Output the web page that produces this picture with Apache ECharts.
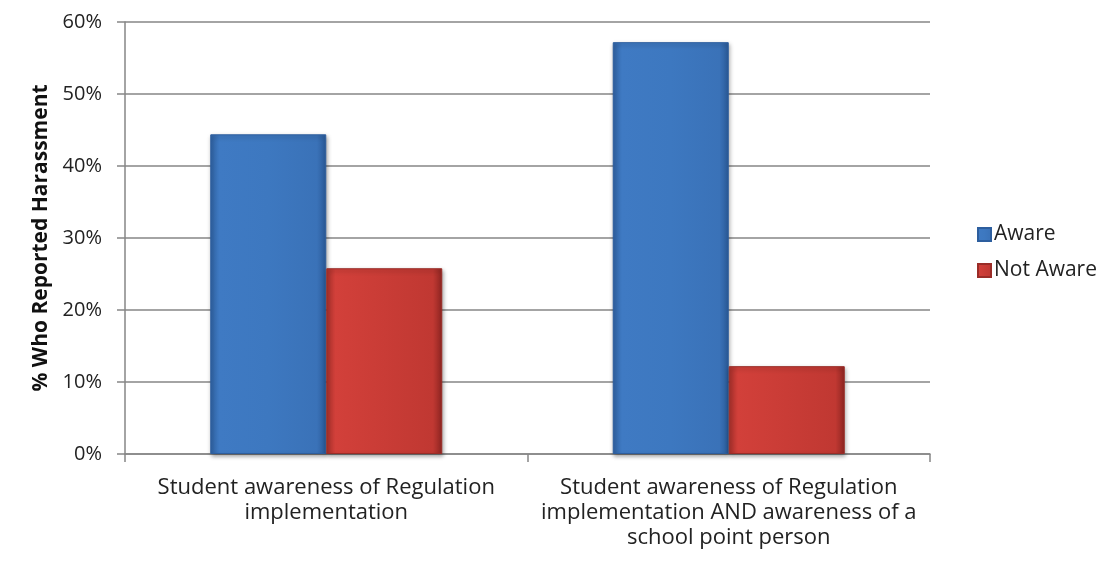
<!DOCTYPE html>
<html>
<head>
<meta charset="utf-8">
<script src="https://cdn.jsdelivr.net/npm/echarts@6/dist/echarts.min.js"></script>
<style>
html,body{margin:0;padding:0;background:#fff;}
#c{width:1108px;height:567px;}
</style>
</head>
<body>
<div id="c"></div>
<script>
const categories = [
  "Student awareness of Regulation\nimplementation",
  "Student awareness of Regulation\nimplementation AND awareness of a\nschool point person"
];
const seriesNames = ["Aware", "Not Aware"];
const aware = [44.4, 57.2];
const notAware = [25.8, 12.2];
const yTicks = [0, 10, 20, 30, 40, 50, 60];

const FONT = "'Open Sans', Lato, sans-serif";
const chart = echarts.init(document.getElementById('c'));

const blueGrad = new echarts.graphic.LinearGradient(0, 0, 1, 0, [
  {offset: 0, color: '#2f62a3'},
  {offset: 0.08, color: '#3f7ac3'},
  {offset: 0.5, color: '#3d78c0'},
  {offset: 0.92, color: '#3a72b8'},
  {offset: 1, color: '#2a5a98'}
]);
const redGrad = new echarts.graphic.LinearGradient(0, 0, 1, 0, [
  {offset: 0, color: '#a8302b'},
  {offset: 0.08, color: '#d2403a'},
  {offset: 0.5, color: '#c93c36'},
  {offset: 0.92, color: '#c03832'},
  {offset: 1, color: '#8f2622'}
]);

chart.setOption({
  animation: false,
  backgroundColor: '#ffffff',
  title: {
    text: 'Reporting Harassment',
    left: 362,
    top: -41,
    textStyle: {fontFamily: 'Lato, sans-serif', fontSize: 37, fontWeight: 'bold', color: '#000'}
  },
  grid: {left: 125, right: 178, top: 22, bottom: 113},
  legend: {
    orient: 'vertical',
    left: 972,
    top: 219,
    itemWidth: 13,
    itemHeight: 13,
    itemGap: 15,
    icon: 'rect',
    textStyle: {fontFamily: FONT, fontSize: 21, color: '#222', padding: [0, 0, 0, -2]},
    data: seriesNames
  },
  xAxis: {
    type: 'category',
    data: categories,
    axisLine: {show: true, lineStyle: {color: '#868686', width: 1.5}},
    axisTick: {show: true, length: 8, lineStyle: {color: '#868686', width: 1.5}},
    axisLabel: {fontFamily: FONT, fontSize: 22, color: '#222', lineHeight: 25, margin: 21, interval: 0}
  },
  yAxis: {
    type: 'value',
    min: yTicks[0],
    max: yTicks[yTicks.length - 1],
    interval: 10,
    name: '% Who Reported Harassment',
    nameLocation: 'middle',
    nameGap: 71,
    nameTextStyle: {fontFamily: FONT, fontSize: 21, fontWeight: 'bold', color: '#111'},
    axisLine: {show: true, lineStyle: {color: '#868686', width: 1.5}},
    axisTick: {show: true, length: 8, lineStyle: {color: '#868686', width: 1.5}},
    axisLabel: {fontFamily: FONT, fontSize: 20, color: '#222', margin: 23, formatter: v => v + '%'},
    splitLine: {show: true, lineStyle: {color: '#868686', width: 1.5}}
  },
  series: [
    {
      name: seriesNames[0],
      type: 'bar',
      data: aware,
      barWidth: 116,
      barGap: '0%',
      itemStyle: {color: blueGrad, borderColor: '#2d5e9e', borderWidth: 1, shadowColor: 'rgba(0,0,0,0.35)', shadowBlur: 4, shadowOffsetX: 1, shadowOffsetY: 2}
    },
    {
      name: seriesNames[1],
      type: 'bar',
      data: notAware,
      barWidth: 116,
      barGap: '0%',
      itemStyle: {color: redGrad, borderColor: '#9a2c27', borderWidth: 1, shadowColor: 'rgba(0,0,0,0.35)', shadowBlur: 4, shadowOffsetX: 1, shadowOffsetY: 2}
    }
  ]
});
</script>
</body>
</html>
